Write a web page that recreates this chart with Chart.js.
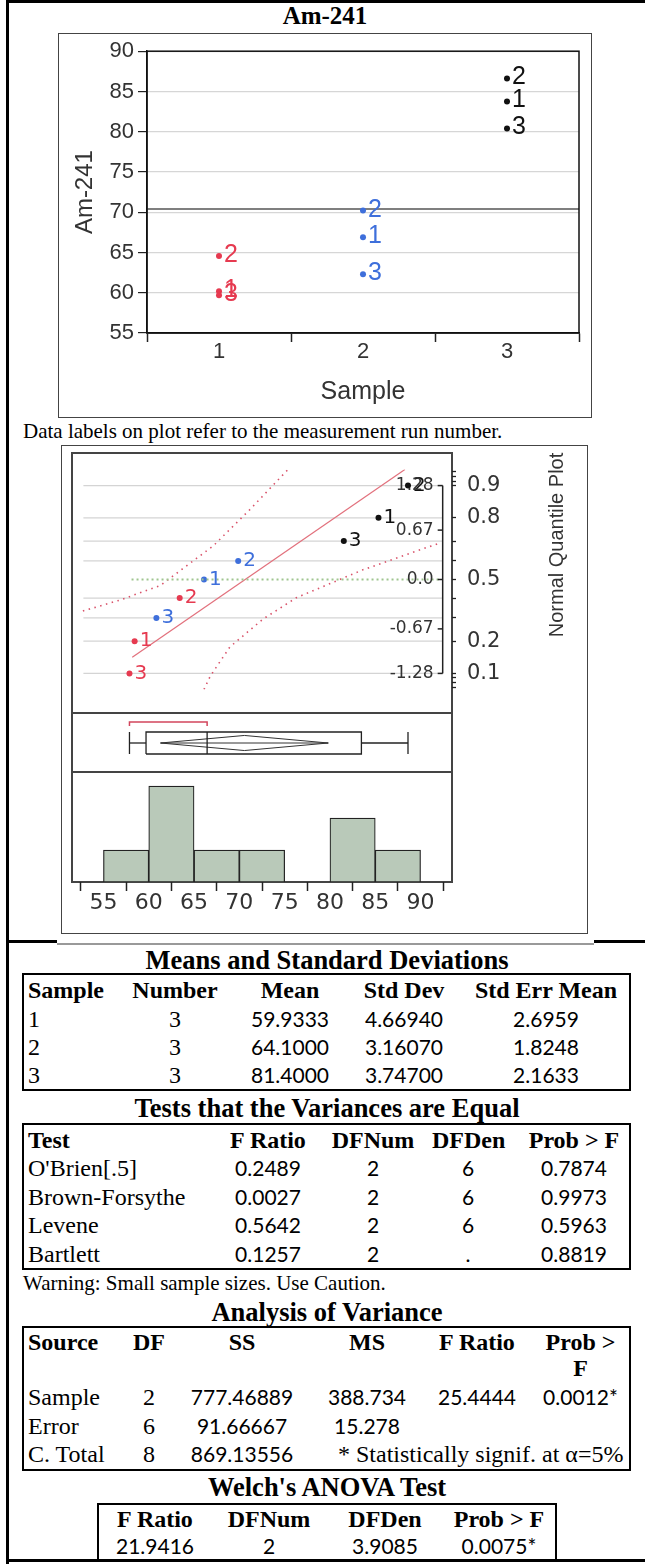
<!DOCTYPE html>
<html>
<head>
<meta charset="utf-8">
<title>Am-241</title>
<script src="https://cdn.jsdelivr.net/npm/chart.js@4.4.1/dist/chart.umd.min.js"></script>
<style>
html, body { margin: 0; padding: 0; background: #fff; }
#page { position: relative; width: 645px; height: 1564px; overflow: hidden; background: #fff; color: #000;
        font-family: 'Liberation Serif', 'Times New Roman', serif; }
.rule { position: absolute; background: #000; }
.frame { position: absolute; box-sizing: border-box; border: 1.5px solid #444; }
canvas { position: absolute; }
.heading { position: absolute; left: 0; width: 654px; text-align: center; font-weight: bold;
           font-size: 26.5px; line-height: 30px; white-space: nowrap; }
.note { position: absolute; left: 23px; font-size: 21px; line-height: 24px; white-space: nowrap; }
table.st { position: absolute; box-sizing: border-box; border: 2px solid #000; border-collapse: separate;
           border-spacing: 0; table-layout: fixed; }
table.st th, table.st td { padding: 0; white-space: nowrap; vertical-align: middle; line-height: 26px;
           text-align: center; overflow: visible; }
table.st th { font-family: 'Liberation Serif', serif; font-weight: bold; font-size: 24px; }
table.st.toph th { vertical-align: top; padding-top: 1px; }
table.st .l { text-align: left; }
table.st td.l, table.st td.s, table.st td.fn { font-family: 'Liberation Serif', serif; font-size: 24px; }
table.st td.n { font-family: Lato, sans-serif; font-size: 21px; }
table.st td.fn { text-align: left; }
table.st span { position: relative; }
</style>
</head>
<body>
<div id="page">
  <!-- outer document borders -->
  <div class="rule" style="left:6px;top:0;width:3px;height:1564px"></div>
  <div class="rule" style="left:6px;top:0;width:639px;height:3px"></div>
  <div class="rule" style="left:6px;top:1559px;width:639px;height:3px"></div>
  <div class="rule" style="left:6px;top:940px;width:51px;height:3px"></div>
  <div class="rule" style="left:57px;top:943px;width:537px;height:2px;background:#999"></div>
  <div class="rule" style="left:594px;top:940px;width:51px;height:3px"></div>

  <div class="heading" style="top:1px;width:650px;font-size:25px">Am-241</div>
  <div class="frame" style="left:58px;top:33px;width:534px;height:385px"></div>
  <canvas id="amChart" width="531" height="382" style="left:59px;top:34px"></canvas>
  <div class="note" style="top:419px">Data labels on plot refer to the measurement run number.</div>

  <div class="frame" style="left:61px;top:445px;width:527px;height:489px"></div>
  <div class="frame" style="left:71px;top:452px;width:382px;height:431px;border:2px solid #444"></div>
  <div class="rule" style="left:71px;top:712px;width:382px;height:2px;background:#444"></div>
  <div class="rule" style="left:71px;top:771px;width:382px;height:2px;background:#444"></div>
  <canvas id="qChart" width="524" height="267" style="left:62px;top:446px"></canvas>
  <canvas id="boxChart" width="524" height="58" style="left:62px;top:714px"></canvas>
  <canvas id="histChart" width="524" height="160" style="left:62px;top:772px"></canvas>

  <div class="heading" style="top:945px">Means and Standard Deviations</div>
  <table class="st" id="meansTable" style="left:22px;top:973px;width:609px"></table>
  <div class="heading" style="top:1093px">Tests that the Variances are Equal</div>
  <table class="st" id="varTable" style="left:22px;top:1123px;width:609px"></table>
  <div class="note" style="top:1271px">Warning: Small sample sizes. Use Caution.</div>
  <div class="heading" style="top:1297px">Analysis of Variance</div>
  <table class="st toph" id="anovaTable" style="left:22px;top:1326px;width:609px"></table>
  <div class="heading" style="top:1472px">Welch's ANOVA Test</div>
  <table class="st" id="welchTable" style="left:97px;top:1503px;width:460px"></table>
</div>

<script>
// ---- Am-241 by sample ----
const sampleLabels = ['1', '2', '3'];
const runNumbers = [1, 2, 3];
const sample1Values = [60.2, 64.55, 59.7];
const sample2Values = [66.9, 70.2, 62.3];
const sample3Values = [83.75, 86.6, 80.4];
const grandMean = 70.4;
const amTicks = [55, 60, 65, 70, 75, 80, 85, 90];

// ---- normal quantile plot ----
const sample1Quantiles = [-0.842, -0.253, -1.282];
const sample2Quantiles = [0, 0.253, -0.524];
const sample3Quantiles = [0.842, 1.282, 0.524];
const fitLineX = [59.97, 86.3];
const fitLineZ = [-1.06, 1.5];
const upperBandX = [55.2, 58.8, 62.7, 67.8, 71.3, 75.0];
const upperBandZ = [-0.43, -0.28, -0.08, 0.46, 0.95, 1.5];
const lowerBandX = [66.9, 67.5, 69.4, 72.6, 75.8, 82.2, 89.7];
const lowerBandZ = [-1.5, -1.32, -0.92, -0.54, -0.25, 0.13, 0.5];
const zeroLineX = [59.9, 89.7];
const zeroLineZ = [0, 0];
const gridZ = [-1.282, -0.842, -0.524, -0.253, 0.253, 0.524, 0.842, 1.282];
const probTickZ = [-1.476, -1.405, -1.341, -1.282, -0.842, -0.524, -0.253, 0, 0.253, 0.524, 0.842, 1.282, 1.341, 1.405, 1.476];
const probTickLabels = ['', '', '', '0.1', '0.2', '', '', '0.5', '', '', '0.8', '0.9', '', '', ''];
const innerTickZ = [1.282, 0.674, 0, -0.674, -1.282];
const innerTickLabels = ['1.28', '0.67', '0.0', '-0.67', '-1.28'];
const gridStartX = 55.25;
const innerAxisX = 89.95;

// ---- outlier box plot ----
const boxMin = 59.7, boxQ1 = 61.3, boxMedian = 67.2, boxQ3 = 82.1, boxMax = 86.6;
const diamondLow = 62.7, diamondMean = 70.8, diamondHigh = 78.9;
const shortestHalf = [59.7, 67.2];

// ---- histogram ----
const binMids = [57.5, 62.5, 67.5, 72.5, 77.5, 82.5, 87.5];
const binCounts = [1, 3, 1, 1, 0, 2, 1];
const histTicks = [55, 60, 65, 70, 75, 80, 85, 90];
const xMin = 54.15, xMax = 90.85;

// ---- report tables ----
const meansHeader = ['Sample', 'Number', 'Mean', 'Std Dev', 'Std Err Mean'];
const meansRows = [
    ['1', '3', '59.9333', '4.66940', '2.6959'],
    ['2', '3', '64.1000', '3.16070', '1.8248'],
    ['3', '3', '81.4000', '3.74700', '2.1633']
];
const varHeader = ['Test', 'F Ratio', 'DFNum', 'DFDen', 'Prob &gt; F'];
const varRows = [
    ["O'Brien[.5]", '0.2489', '2', '6', '0.7874'],
    ['Brown-Forsythe', '0.0027', '2', '6', '0.9973'],
    ['Levene', '0.5642', '2', '6', '0.5963'],
    ['Bartlett', '0.1257', '2', '.', '0.8819']
];
const anovaHeader = ['Source', 'DF', 'SS', 'MS', 'F Ratio', 'Prob &gt;<br>F'];
const anovaRows = [
    ['Sample', '2', '777.46889', '388.734', '25.4444', '0.0012*'],
    ['Error', '6', '91.66667', '15.278', '', ''],
    ['C. Total', '8', '869.13556', { text: '* Statistically signif. at \u03b1=5%', span: 3 }]
];
const welchHeader = ['F Ratio', 'DFNum', 'DFDen', 'Prob &gt; F'];
const welchRows = [['21.9416', '2', '3.9085', '0.0075*']];

const RED = '#e63a50', BLUE = '#3e6fdb', BLACK = '#111111';

Chart.defaults.font.family = "'Liberation Sans', Arial, sans-serif";
Chart.defaults.color = '#333';

const toXY = (xs, ys) => xs.map((x, i) => ({ x: x, y: ys[i] }));

// run-number labels next to each point
const pointLabels = {
    id: 'pointLabels',
    afterDatasetsDraw(chart, args, opts) {
        const ctx = chart.ctx;
        ctx.save();
        ctx.font = opts.font;
        ctx.textBaseline = 'middle';
        chart.data.datasets.forEach((ds, i) => {
            if (!ds.runLabels) return;
            ctx.fillStyle = ds.backgroundColor;
            chart.getDatasetMeta(i).data.forEach((pt, j) => {
                ctx.fillText(String(ds.runLabels[j]), pt.x + opts.dx, pt.y + opts.dy);
            });
        });
        ctx.restore();
    }
};

const frameAndMean = {
    id: 'frameAndMean',
    beforeDatasetsDraw(chart) {
        const { ctx, chartArea: a, scales: { y } } = chart;
        const py = y.getPixelForValue(grandMean);
        ctx.save();
        ctx.strokeStyle = '#555';
        ctx.lineWidth = 1.5;
        ctx.beginPath();
        ctx.moveTo(a.left, py);
        ctx.lineTo(a.right, py);
        ctx.stroke();
        ctx.strokeStyle = '#111';
        ctx.strokeRect(a.left, a.top, a.right - a.left, a.bottom - a.top);
        ctx.restore();
    }
};

function sampleDataset(label, values, color) {
    return {
        data: values.map(v => ({ x: label, y: v })),
        runLabels: runNumbers,
        showLine: false,
        backgroundColor: color,
        borderColor: color,
        pointRadius: 3,
        pointBorderWidth: 0
    };
}

new Chart(document.getElementById('amChart'), {
    type: 'line',
    data: {
        labels: sampleLabels,
        datasets: [
            sampleDataset(sampleLabels[0], sample1Values, RED),
            sampleDataset(sampleLabels[1], sample2Values, BLUE),
            sampleDataset(sampleLabels[2], sample3Values, BLACK)
        ]
    },
    options: {
        responsive: false,
        animation: false,
        layout: { padding: { top: 14, right: 11, left: 0, bottom: 0 } },
        plugins: {
            legend: { display: false },
            tooltip: { enabled: false },
            pointLabels: { font: "25px 'Liberation Sans'", dx: 5, dy: -1 }
        },
        scales: {
            x: {
                type: 'category',
                offset: true,
                grid: { display: true, offset: true, drawOnChartArea: false, tickLength: 9, tickColor: '#222', tickWidth: 1.5 },
                border: { display: true, color: '#111', width: 1.5 },
                ticks: { font: { size: 22, lineHeight: 1 }, color: '#333', padding: -1 },
                title: { display: true, text: 'Sample', font: { size: 25 }, color: '#333', padding: { bottom: 9 } },
                afterFit(scale) { scale.height = 83; }
            },
            y: {
                min: 55,
                max: 90,
                afterBuildTicks(scale) { scale.ticks = amTicks.map(v => ({ value: v })); },
                grid: { color: '#d6d6d6', lineWidth: 1.2, tickColor: '#222', tickLength: 9 },
                border: { display: true, color: '#111', width: 1.5 },
                ticks: { font: { size: 22 }, color: '#333', padding: 4 },
                title: { display: true, text: 'Am-241', font: { size: 24 }, color: '#333', padding: { top: 12 } },
                afterFit(scale) { scale.width = 88; }
            }
        }
    },
    plugins: [frameAndMean, pointLabels]
});

// grid lines, inner quantile axis and side title of the quantile plot
const quantileDecor = {
    id: 'quantileDecor',
    beforeDatasetsDraw(chart) {
        const { ctx, scales: { x, y } } = chart;
        const x0 = x.getPixelForValue(gridStartX);
        const x1 = x.getPixelForValue(innerAxisX);
        ctx.save();
        ctx.strokeStyle = '#d4d4d4';
        ctx.lineWidth = 1.2;
        gridZ.forEach(z => {
            const py = y.getPixelForValue(z);
            ctx.beginPath();
            ctx.moveTo(x0, py);
            ctx.lineTo(x1, py);
            ctx.stroke();
        });
        ctx.restore();
    },
    afterDraw(chart) {
        const { ctx, scales: { x, y } } = chart;
        const x1 = x.getPixelForValue(innerAxisX);
        ctx.save();
        ctx.strokeStyle = '#222';
        ctx.lineWidth = 1.5;
        ctx.beginPath();
        ctx.moveTo(x1, y.getPixelForValue(innerTickZ[0]));
        ctx.lineTo(x1, y.getPixelForValue(innerTickZ[innerTickZ.length - 1]));
        ctx.stroke();
        ctx.font = "17px 'DejaVu Sans'";
        ctx.fillStyle = '#333';
        ctx.textAlign = 'right';
        ctx.textBaseline = 'middle';
        innerTickZ.forEach((z, i) => {
            const py = y.getPixelForValue(z);
            ctx.beginPath();
            ctx.moveTo(x1 - 5, py);
            ctx.lineTo(x1, py);
            ctx.stroke();
            ctx.fillText(innerTickLabels[i], x1 - 9, py);
        });
        ctx.translate(chart.width - 29, 99);
        ctx.rotate(-Math.PI / 2);
        ctx.textAlign = 'center';
        ctx.font = "20px 'Liberation Sans'";
        ctx.fillText('Normal Quantile Plot', 0, 0);
        ctx.restore();
    }
};

function lineSet(data, color, width, dash) {
    return { data: data, showLine: true, borderColor: color, borderWidth: width, borderDash: dash || [], pointRadius: 0, fill: false };
}
function quantilePoints(values, quantiles, color) {
    return { data: toXY(values, quantiles), runLabels: runNumbers, backgroundColor: color, borderColor: color, pointRadius: 3, pointBorderWidth: 0 };
}

new Chart(document.getElementById('qChart'), {
    type: 'scatter',
    data: {
        datasets: [
            lineSet(toXY(zeroLineX, zeroLineZ), '#9fc58f', 2, [2, 3]),
            lineSet(toXY(fitLineX, fitLineZ), '#e2707c', 1.2),
            lineSet(toXY(upperBandX, upperBandZ), '#d9536a', 1.6, [1.5, 4.5]),
            lineSet(toXY(lowerBandX, lowerBandZ), '#d9536a', 1.6, [1.5, 4.5]),
            quantilePoints(sample1Values, sample1Quantiles, RED),
            quantilePoints(sample2Values, sample2Quantiles, BLUE),
            quantilePoints(sample3Values, sample3Quantiles, BLACK)
        ]
    },
    options: {
        responsive: false,
        animation: false,
        layout: { padding: { left: 10, top: 7, right: 0, bottom: 0 } },
        plugins: {
            legend: { display: false },
            tooltip: { enabled: false },
            pointLabels: { font: "20px 'DejaVu Sans'", dx: 5, dy: 0 }
        },
        scales: {
            x: { type: 'linear', display: false, min: xMin, max: xMax },
            y: {
                type: 'linear',
                position: 'right',
                min: -1.5,
                max: 1.5,
                afterBuildTicks(scale) { scale.ticks = probTickZ.map(v => ({ value: v })); },
                grid: { display: true, drawOnChartArea: false, tickLength: 4, tickColor: '#222', tickWidth: 1.3 },
                border: { display: false },
                ticks: {
                    autoSkip: false,
                    callback: (value, index) => probTickLabels[index],
                    font: { family: "'DejaVu Sans'", size: 21 },
                    color: '#333',
                    padding: 11
                },
                afterFit(scale) { scale.width = 134; }
            }
        }
    },
    plugins: [quantileDecor, pointLabels]
});

// outlier box plot, means diamond and shortest half bracket
const boxH = 0.38, diamondH = 0.26, bracketY = 0.72, bracketTick = 0.59;
new Chart(document.getElementById('boxChart'), {
    type: 'scatter',
    data: {
        datasets: [
            lineSet([{ x: boxQ1, y: -boxH }, { x: boxQ3, y: -boxH }, { x: boxQ3, y: boxH }, { x: boxQ1, y: boxH }, { x: boxQ1, y: -boxH }], '#222', 1.3),
            lineSet([{ x: boxMedian, y: -boxH }, { x: boxMedian, y: boxH }], '#222', 1.3),
            lineSet([{ x: boxMin, y: 0 }, { x: boxQ1, y: 0 }], '#222', 1.3),
            lineSet([{ x: boxQ3, y: 0 }, { x: boxMax, y: 0 }], '#222', 1.3),
            lineSet([{ x: boxMin, y: -boxH }, { x: boxMin, y: boxH }], '#222', 1.3),
            lineSet([{ x: boxMax, y: -boxH }, { x: boxMax, y: boxH }], '#222', 1.3),
            lineSet([{ x: diamondLow, y: 0 }, { x: diamondMean, y: diamondH }, { x: diamondHigh, y: 0 },
                     { x: diamondMean, y: -diamondH }, { x: diamondLow, y: 0 }, { x: diamondHigh, y: 0 }], '#333', 1),
            lineSet([{ x: shortestHalf[0], y: bracketTick }, { x: shortestHalf[0], y: bracketY },
                     { x: shortestHalf[1], y: bracketY }, { x: shortestHalf[1], y: bracketTick }], '#d2455c', 1.5)
        ]
    },
    options: {
        responsive: false,
        animation: false,
        layout: { padding: { left: 10, right: 134, top: 0, bottom: 0 } },
        plugins: { legend: { display: false }, tooltip: { enabled: false } },
        scales: {
            x: { type: 'linear', display: false, min: xMin, max: xMax },
            y: { type: 'linear', display: false, min: -1, max: 1 }
        }
    }
});

new Chart(document.getElementById('histChart'), {
    type: 'bar',
    data: {
        datasets: [{
            data: toXY(binMids, binCounts),
            backgroundColor: '#b9c9b9',
            borderColor: '#222',
            borderWidth: 1.2,
            borderSkipped: false,
            barPercentage: 1,
            categoryPercentage: 1
        }]
    },
    options: {
        responsive: false,
        animation: false,
        layout: { padding: { left: 10, right: 134, top: 0, bottom: 0 } },
        plugins: { legend: { display: false }, tooltip: { enabled: false } },
        scales: {
            x: {
                type: 'linear',
                min: xMin,
                max: xMax,
                afterBuildTicks(scale) { scale.ticks = histTicks.map(v => ({ value: v })); },
                grid: { display: true, drawOnChartArea: false, tickLength: 9, tickColor: '#222', tickWidth: 1.5 },
                border: { display: false },
                ticks: { font: { family: "'DejaVu Sans'", size: 22, lineHeight: 1.1 }, color: '#333', padding: 0 },
                afterFit(scale) { scale.height = 50; }
            },
            y: { type: 'linear', display: false, min: 0, max: 3.44 }
        }
    }
});

// ---- tables ----
function buildTable(id, spec) {
    const t = document.getElementById(id);
    const cell = (tag, cls, text, shift, extra) =>
        `<${tag} class="${cls}"${extra || ''}><span style="left:${shift}px">${text}</span></${tag}>`;
    let html = '<colgroup>' + spec.widths.map(w => `<col style="width:${w}px">`).join('') + '</colgroup>';
    html += `<tr style="height:${spec.heights[0]}px">` +
        spec.header.map((h, i) => cell('th', spec.cls[i] === 'l' ? 'l' : '', h, spec.shifts[i])).join('') + '</tr>';
    spec.rows.forEach((r, k) => {
        html += `<tr style="height:${spec.heights[k + 1]}px">`;
        let col = 0;
        r.forEach(c => {
            if (typeof c === 'object') {
                html += cell('td', 'fn', c.text, 34, ` colspan="${c.span}"`);
                col += c.span;
            } else {
                html += cell('td', spec.cls[col], c, spec.shifts[col]);
                col++;
            }
        });
        html += '</tr>';
    });
    t.innerHTML = html;
}

buildTable('meansTable', {
    widths: [96, 110, 120, 108, 171], cls: ['l', 's', 'n', 'n', 'n'], shifts: [4, 0, 0, 0, 2.5],
    heights: [30, 28, 28, 28], header: meansHeader, rows: meansRows
});
buildTable('varTable', {
    widths: [198, 92, 118, 72, 125], cls: ['l', 'n', 'n', 'n', 'n'], shifts: [4, 0, 0, 0, 7.5],
    heights: [29, 28.5, 28.5, 28.5, 28.5], header: varHeader, rows: varRows
});
buildTable('anovaTable', {
    widths: [94, 62, 124, 126, 94, 105], cls: ['l', 's', 'n', 'n', 'n', 'n'], shifts: [4, 0, 0, 0, 0, 4],
    heights: [55, 28.5, 28.5, 28.5], header: anovaHeader, rows: anovaRows
});
buildTable('welchTable', {
    widths: [112, 116, 116, 112], cls: ['n', 'n', 'n', 'n'], shifts: [0, 0, 0, 0],
    heights: [27, 27], header: welchHeader, rows: welchRows
});
</script>
</body>
</html>
